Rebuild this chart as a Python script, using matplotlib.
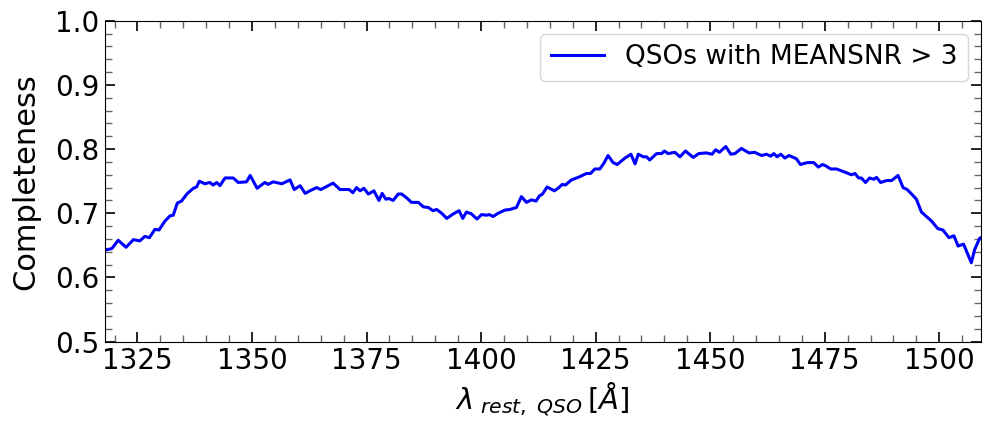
import numpy as np
import matplotlib
matplotlib.use('Agg')
import matplotlib.pyplot as plt
from matplotlib.ticker import MultipleLocator

# wavelength (rest frame, Angstrom) and completeness
wave = [1318.1, 1319.4, 1320.8, 1322.5, 1324.1, 1325.5, 1326.6, 1327.6, 1328.8, 1329.7,
        1331.0, 1332.1, 1332.8, 1333.7, 1334.6, 1335.9, 1337.2, 1337.9, 1338.5, 1339.7,
        1340.8, 1341.5, 1342.3, 1343.0, 1344.1, 1345.9, 1347.0, 1348.8, 1349.6, 1351.1,
        1352.8, 1353.5, 1354.6, 1356.5, 1358.3, 1359.2, 1360.5, 1361.6, 1362.6, 1364.1,
        1365.0, 1367.7, 1369.2, 1371.2, 1372.0, 1372.8, 1373.6, 1374.4, 1375.4, 1376.6,
        1377.7, 1378.4, 1379.2, 1379.9, 1380.8, 1381.9, 1382.7, 1383.9, 1384.8, 1386.3,
        1387.4, 1388.5, 1389.5, 1390.3, 1391.4, 1392.5, 1393.9, 1395.2, 1396.0, 1396.8,
        1397.9, 1399.1, 1400.1, 1401.2, 1401.8, 1402.6, 1403.7, 1405.2, 1406.3, 1407.7,
        1408.8, 1409.9, 1411.0, 1412.0, 1412.7, 1413.4, 1414.4, 1416.0, 1416.8, 1417.7,
        1418.4, 1419.7, 1421.2, 1423.0, 1423.9, 1424.8, 1425.9, 1426.8, 1427.7, 1428.8,
        1429.7, 1431.4, 1432.7, 1433.6, 1434.3, 1435.4, 1436.1, 1436.8, 1438.3, 1439.4,
        1440.0, 1440.8, 1442.3, 1443.4, 1444.6, 1446.3, 1447.5, 1449.2, 1450.4, 1451.2,
        1452.0, 1453.4, 1454.5, 1455.4, 1456.8, 1458.5, 1459.7, 1461.2, 1462.3, 1463.2,
        1463.9, 1464.6, 1465.4, 1466.3, 1467.2, 1468.8, 1469.7, 1471.2, 1472.6, 1473.6,
        1474.5, 1475.2, 1476.3, 1477.6, 1478.7, 1479.8, 1480.8, 1481.6, 1482.4, 1483.0,
        1483.9, 1484.8, 1485.7, 1486.3, 1487.2, 1488.5, 1489.6, 1491.0, 1492.1, 1493.0,
        1494.1, 1495.0, 1496.1, 1497.2, 1498.3, 1499.7, 1500.8, 1502.1, 1503.2, 1504.1,
        1505.3, 1507.0, 1507.7, 1508.8, 1509.9]
completeness = [0.643, 0.645, 0.658, 0.647, 0.659, 0.657, 0.664, 0.662, 0.675, 0.674,
                0.688, 0.696, 0.697, 0.716, 0.719, 0.731, 0.739, 0.741, 0.750, 0.746,
                0.748, 0.744, 0.748, 0.743, 0.755, 0.755, 0.748, 0.749, 0.759, 0.739,
                0.748, 0.745, 0.749, 0.746, 0.752, 0.737, 0.743, 0.731, 0.735, 0.740,
                0.737, 0.747, 0.737, 0.737, 0.732, 0.740, 0.735, 0.739, 0.730, 0.735,
                0.720, 0.731, 0.722, 0.723, 0.720, 0.730, 0.730, 0.723, 0.717, 0.717,
                0.710, 0.709, 0.704, 0.706, 0.700, 0.692, 0.699, 0.704, 0.692, 0.702,
                0.699, 0.691, 0.698, 0.697, 0.698, 0.695, 0.700, 0.705, 0.706, 0.709,
                0.726, 0.717, 0.721, 0.719, 0.727, 0.730, 0.741, 0.735, 0.739, 0.745,
                0.744, 0.752, 0.756, 0.762, 0.762, 0.769, 0.769, 0.778, 0.790, 0.779,
                0.776, 0.786, 0.792, 0.777, 0.792, 0.788, 0.788, 0.783, 0.793, 0.793,
                0.797, 0.793, 0.795, 0.788, 0.797, 0.787, 0.793, 0.794, 0.792, 0.799,
                0.795, 0.804, 0.792, 0.793, 0.801, 0.794, 0.795, 0.790, 0.792, 0.789,
                0.793, 0.788, 0.792, 0.786, 0.790, 0.785, 0.776, 0.779, 0.779, 0.772,
                0.776, 0.774, 0.769, 0.769, 0.766, 0.763, 0.760, 0.762, 0.755, 0.755,
                0.748, 0.755, 0.753, 0.756, 0.748, 0.751, 0.751, 0.759, 0.740, 0.737,
                0.729, 0.722, 0.702, 0.695, 0.688, 0.676, 0.674, 0.662, 0.665, 0.649,
                0.652, 0.623, 0.643, 0.661, 0.665]

fig = plt.figure(figsize=(9.85, 4.23), dpi=100)
ax = fig.add_axes([0.1061, 0.1922, 0.8898, 0.7589])

ax.plot(wave, completeness, color='blue', lw=2.2, label='QSOs with MEANSNR > 3')

ax.set_xlim(1317.8, 1509.1)
ax.set_ylim(0.5, 1.0)
ax.xaxis.set_major_locator(MultipleLocator(25))
ax.xaxis.set_minor_locator(MultipleLocator(5))
ax.yaxis.set_major_locator(MultipleLocator(0.1))
ax.yaxis.set_minor_locator(MultipleLocator(0.02))
ax.tick_params(which='both', direction='in', top=True, right=True, labelsize=20)
ax.tick_params(which='major', length=7, width=1.2)
ax.tick_params(which='minor', length=5, width=1, color='0.4')

ax.set_xlabel(r'$\lambda_{\ rest,\ QSO}\,[Å]$', fontsize=21)
ax.set_ylabel('Completeness', fontsize=22, labelpad=11)
ax.legend(loc='upper right', fontsize=19)

fig.savefig('out.png', dpi=100)
